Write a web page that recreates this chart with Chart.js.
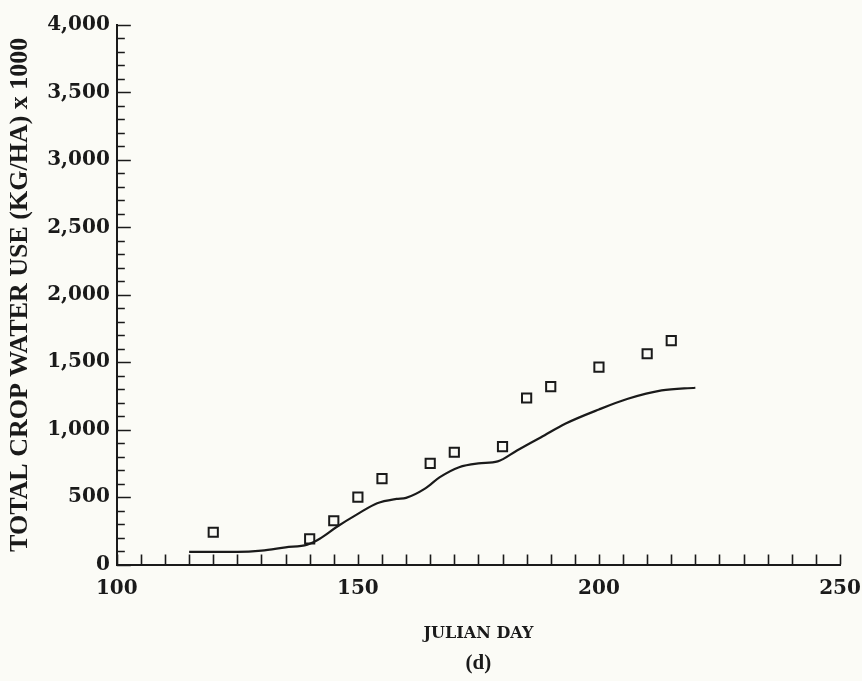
<!DOCTYPE html>
<html>
<head>
<meta charset="utf-8">
<script src="https://cdn.jsdelivr.net/npm/chart.js@4.4.1/dist/chart.umd.min.js"></script>
<style>
  html, body { margin: 0; padding: 0; background: #fbfbf6; }
  #wrap { width: 862px; height: 681px; }
</style>
</head>
<body>
<div id="wrap"><canvas id="c" width="862" height="681"></canvas></div>
<script>
'use strict';
// simulated total crop water use (solid line), julian day vs kg/ha x 1000
const lineDays = [115, 125, 130, 135, 139.5, 142, 145.5, 150, 154, 158, 160, 164, 167, 171, 175, 179, 183, 188, 193, 200, 206, 213, 220];
const lineUse  = [95, 95, 104, 128, 148, 190, 277, 376, 455, 487, 495, 565, 648, 722, 750, 765, 846, 944, 1044, 1150, 1229, 1291, 1311];
// measured values (open squares)
const obsDays = [120, 140, 145, 150, 155, 165, 170, 180, 185, 190, 200, 210, 215];
const obsUse  = [240, 190, 325, 500, 638, 750, 833, 875, 1235, 1320, 1464, 1563, 1660];

const xTicks = [100, 150, 200, 250];
const yTicks = [0, 500, 1000, 1500, 2000, 2500, 3000, 3500, 4000];

const INK = '#1a1a1a';
const tickFont = { family: '"DejaVu Serif"', size: 20, weight: 'bold' };

// small inward tick marks, like the printed figure
const innerTicks = {
  id: 'innerTicks',
  afterDraw(chart) {
    const { ctx, chartArea: a, scales: { x, y } } = chart;
    ctx.save();
    ctx.strokeStyle = INK;
    ctx.lineWidth = 1.6;
    ctx.beginPath();
    for (let d = 100; d <= 250; d += 5) {
      const px = Math.round(x.getPixelForValue(d)) + 0.5;
      ctx.moveTo(px, a.bottom);
      ctx.lineTo(px, a.bottom - 10);
    }
    for (let v = 0; v <= 4000; v += 100) {
      const py = Math.round(y.getPixelForValue(v)) + 0.5;
      ctx.moveTo(a.left, py);
      ctx.lineTo(a.left + (v % 500 === 0 ? 14 : 8), py);
    }
    ctx.stroke();
    ctx.restore();
  }
};

new Chart(document.getElementById('c'), {
  type: 'scatter',
  data: {
    datasets: [
      {
        type: 'line',
        label: 'simulated',
        data: lineDays.map((d, i) => ({ x: d, y: lineUse[i] })),
        borderColor: INK,
        borderWidth: 2.2,
        pointRadius: 0,
        cubicInterpolationMode: 'monotone',
        fill: false,
      },
      {
        label: 'measured',
        data: obsDays.map((d, i) => ({ x: d, y: obsUse[i] })),
        pointStyle: 'rect',
        pointRadius: 6.5,
        borderColor: INK,
        borderWidth: 2,
        backgroundColor: 'rgba(0,0,0,0)',
      },
    ],
  },
  options: {
    responsive: false,
    animation: false,
    layout: { padding: { top: 25, right: 0, bottom: 5, left: 0 } },
    scales: {
      x: {
        type: 'linear', min: 100, max: 250,
        afterBuildTicks: (s) => { s.ticks = xTicks.map(v => ({ value: v })); },
        afterFit: (s) => { s.paddingRight = 22; s.paddingLeft = 0; },
        grid: { display: false, drawTicks: false },
        border: { display: true, color: INK, width: 2 },
        ticks: { color: INK, font: tickFont, padding: 12, maxRotation: 0 },
        title: {
          display: true, text: 'JULIAN DAY', color: INK,
          font: { family: '"DejaVu Serif"', size: 16, weight: 'bold' },
          padding: { top: 12, bottom: 7 },
        },
      },
      y: {
        type: 'linear', min: 0, max: 4000,
        afterBuildTicks: (s) => { s.ticks = yTicks.map(v => ({ value: v })); },
        grid: { display: false, drawTicks: false },
        border: { display: true, color: INK, width: 2 },
        ticks: { color: INK, font: tickFont, padding: 7, callback: (v) => v.toLocaleString('en-US') },
        title: {
          display: true, text: 'TOTAL CROP WATER USE (KG/HA) x 1000', color: INK,
          font: { family: '"Liberation Serif"', size: 26, weight: 'bold' },
          padding: { top: 5, bottom: 4 },
        },
      },
    },
    plugins: {
      legend: { display: false },
      tooltip: { enabled: false },
      title: {
        display: true, position: 'bottom', fullSize: false, text: '(d)', color: INK,
        font: { family: '"Liberation Serif"', size: 21, weight: 'bold' },
        padding: { top: 0, bottom: 0 },
      },
    },
  },
  plugins: [innerTicks],
});
</script>
</body>
</html>
